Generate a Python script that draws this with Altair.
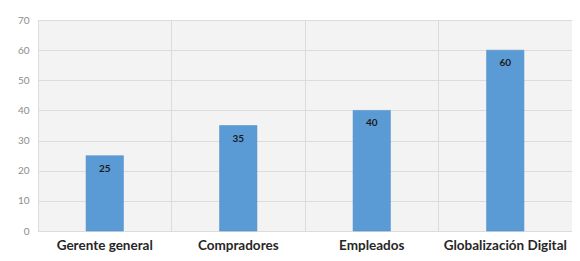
import altair as alt
import pandas as pd

categories = ["Gerente general", "Compradores", "Empleados", "Globalización Digital"]
values = [25, 35, 40, 60]
y_ticks = [0, 10, 20, 30, 40, 50, 60, 70]

df = pd.DataFrame({"cat": categories, "val": values})

x = alt.X("cat:N", sort=categories, title=None,
          scale=alt.Scale(paddingInner=0.72, paddingOuter=0.36),
          axis=alt.Axis(labelAngle=0, labelFont="Lato", labelFontWeight="bold",
                        labelFontSize=13.5, labelColor="#262626", labelPadding=7,
                        domain=False, ticks=False, grid=True, gridColor="#dcdcdc",
                        bandPosition=-1.2857))
y = alt.Y("val:Q", title=None,
          scale=alt.Scale(domain=[0, 70], nice=False),
          axis=alt.Axis(values=y_ticks, labelFont="Lato", labelFontSize=10,
                        labelColor="#8c8c8c", labelPadding=9, domain=False,
                        ticks=False, gridColor="#dcdcdc", labelOverlap=False))

base = alt.Chart(df).encode(x=x, y=y)
bars = base.mark_bar(color="#5b9bd5", stroke="#4a8ac4", strokeWidth=0.5)
labels = base.mark_text(baseline="middle", dy=13, font="Lato", fontWeight="bold",
                        fontSize=10, color="#1a1a1a").encode(text="val:Q")

chart = alt.layer(bars, labels).properties(
    width=534, height=211,
    autosize=alt.AutoSizeParams(type="none"),
    padding={"left": 30, "top": 12, "right": 0, "bottom": 30},
    background="white",
).configure_view(fill="#f3f3f3", stroke="#dcdcdc")

chart.save("out.html", embed_options={"renderer": "svg", "actions": False})
